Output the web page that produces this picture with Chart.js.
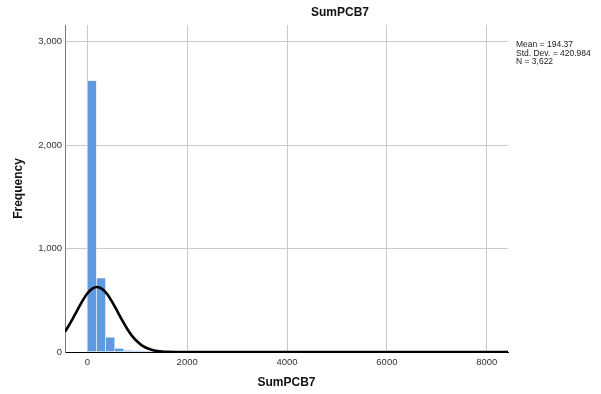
<!DOCTYPE html>
<html>
<head>
<meta charset="utf-8">
<script src="https://cdn.jsdelivr.net/npm/chart.js@4/dist/chart.umd.min.js"></script>
<style>
html,body{margin:0;padding:0;background:#fff;}
#wrap{width:601px;height:394px;position:relative;}
</style>
</head>
<body>
<div id="wrap"><canvas id="c" width="601" height="394"></canvas></div>
<script>
// ---- data ----
const chartTitle = "SumPCB7";
const xTitle = "SumPCB7";
const yTitle = "Frequency";
const statsLines = ["Mean = 194.37", "Std. Dev. = 420.984", "N = 3,622"];
const binWidth = 183;
const binCenters = [91.5,274.5,457.5,640.5,823.5,1006.5,1189.5,1372.5,1555.5,1738.5,1921.5,2104.5,2287.5,2470.5,2653.5,2836.5,3019.5,3202.5,3385.5,3568.5,3751.5,3934.5,4117.5,4300.5,4483.5,4666.5,4849.5,5032.5,5215.5,5398.5,5581.5,5764.5,5947.5,6130.5,6313.5,6496.5,6679.5,6862.5,7045.5,7228.5,7411.5,7594.5,7777.5,7960.5,8143.5,8326.5];
const binCounts = [2622,714,141,34,14,12,10,8,7,6,5,5,4,4,3,3,3,2,2,2,2,2,2,1,1,1,1,1,1,1,1,1,0,1,0,1,0,1,0,0,1,0,0,0,1,1];
const curveX = [-447,-400,-300,-200,-100,0,100,194,300,400,500,600,700,800,900,1000,1100,1200,1300,1400,1500,1600,1800,2000,8426];
const curveY = [197,232,315,405,492,565,612,628,608,558,482,395,305,223,154,101,62,36,20,10.4,5.1,2.4,0.4,0,0];
const xTicks = [0,2000,4000,6000,8000];
const yTicks = [0,1000,2000,3000];

const barData = binCenters.map((x,i)=>({x:x,y:binCounts[i]}));
const lineData = curveX.map((x,i)=>({x:x,y:curveY[i]}));

const overlay = {
  id:'overlay',
  afterDraw(chart){
    const ctx = chart.ctx;
    ctx.save();
    ctx.fillStyle = '#111';
    ctx.font = 'bold 12px "Liberation Sans", Arial, sans-serif';
    ctx.textAlign = 'center';
    ctx.textBaseline = 'middle';
    ctx.fillText(chartTitle, 340, 13);
    ctx.font = '8.5px "Liberation Sans", Arial, sans-serif';
    ctx.textAlign = 'left';
    ctx.fillStyle = '#222';
    statsLines.forEach((t,i)=>ctx.fillText(t, 516, 44.5 + i*8.8));
    ctx.restore();
  }
};

new Chart(document.getElementById('c'), {
  data: {
    datasets: [
      {type:'line', data: lineData, borderColor:'#000', borderWidth:2.6, pointRadius:0,
       cubicInterpolationMode:'monotone', fill:false, order:0},
      {type:'bar', data: barData, backgroundColor:'#6199e0', borderColor:'rgba(255,255,255,0.65)',
       borderWidth:{left:0.6,right:0.6,top:0,bottom:0}, barPercentage:1, categoryPercentage:1, order:1}
    ]
  },
  options: {
    responsive:false, animation:false, devicePixelRatio:1,
    layout:{padding:{left:0,right:93,top:25,bottom:0}},
    plugins:{legend:{display:false}, tooltip:{enabled:false}, title:{display:false}},
    scales:{
      x:{type:'linear', min:-447, max:8426, offset:false,
        afterBuildTicks(s){ s.ticks = xTicks.map(v=>({value:v})); },
        afterFit(s){ s.height = 42; },
        grid:{color:'#c9c9c9', lineWidth:1, drawTicks:false, offset:false},
        border:{display:true, color:'#000', width:1},
        ticks:{padding:5, color:'#333', font:{size:9.5, family:'"Liberation Sans", Arial, sans-serif'}, maxRotation:0,
          callback:(v)=>String(v)},
        title:{display:true, text:xTitle, color:'#111', padding:{top:4,bottom:4},
          font:{size:12, weight:'bold', family:'"Liberation Sans", Arial, sans-serif'}}
      },
      y:{type:'linear', min:0, max:3161,
        afterBuildTicks(s){ s.ticks = yTicks.map(v=>({value:v})); },
        afterFit(s){ s.width = 65; },
        grid:{color:'#c9c9c9', lineWidth:1, drawTicks:false, offset:false},
        border:{display:true, color:'#777', width:1},
        ticks:{padding:3, color:'#333', font:{size:9.5, family:'"Liberation Sans", Arial, sans-serif'},
          callback:(v)=>Number(v).toLocaleString('en-US')},
        title:{display:true, text:yTitle, color:'#111', padding:{top:11,bottom:11},
          font:{size:12, weight:'bold', family:'"Liberation Sans", Arial, sans-serif'}}
      }
    }
  },
  plugins:[overlay]
});
</script>
</body>
</html>
